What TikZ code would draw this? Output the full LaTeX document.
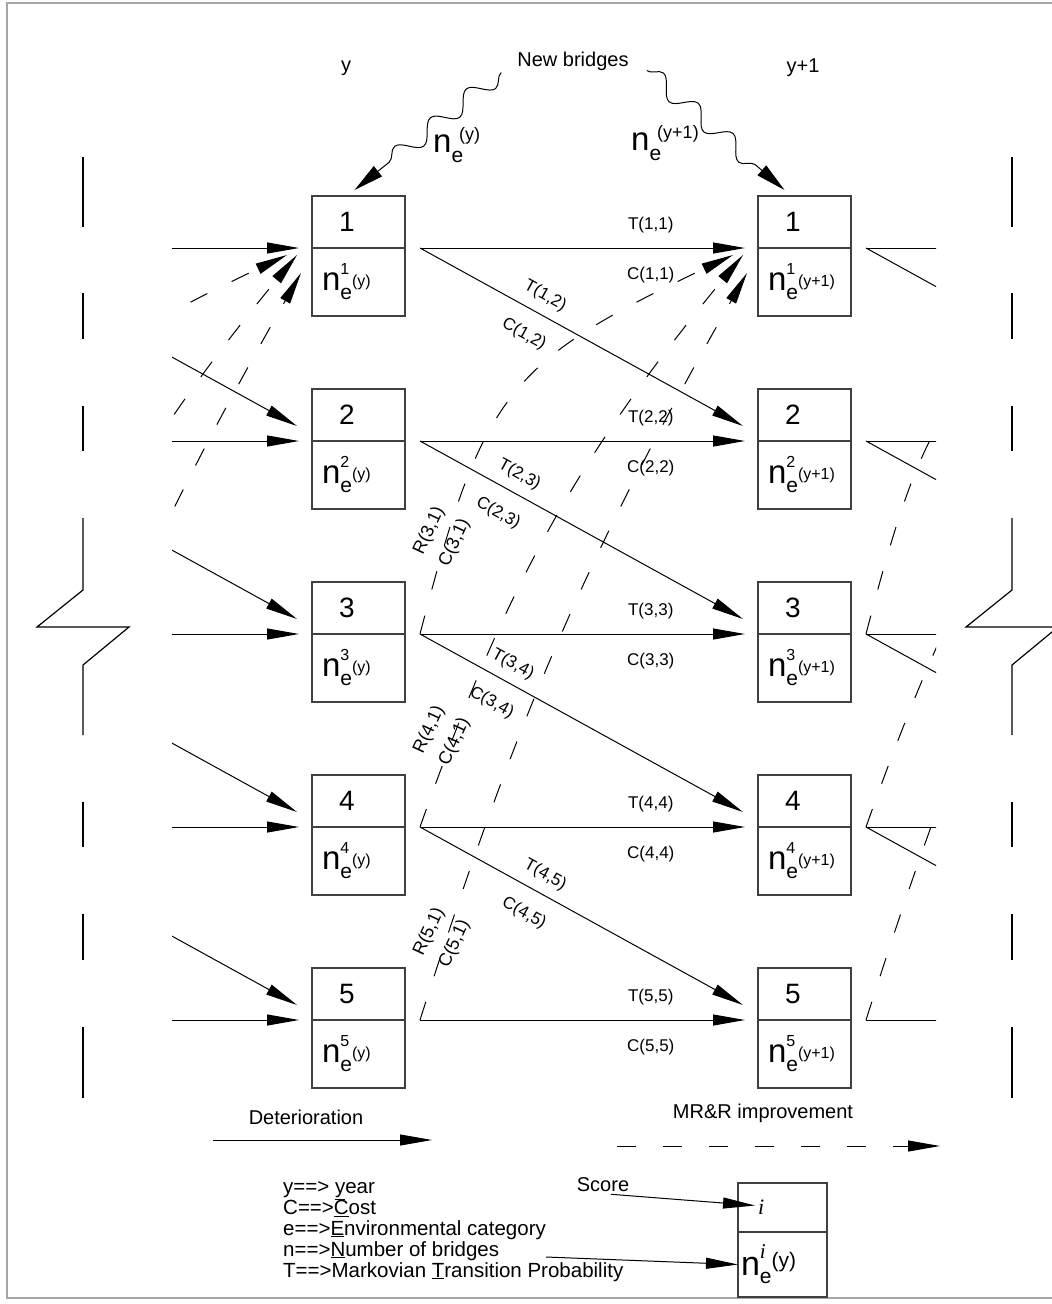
\documentclass[tikz,border=0pt]{standalone}
\usepackage{fontspec}
\setmainfont{Liberation Sans}
\newfontfamily\serifit{Liberation Serif}
\usepackage{tikz}
\usetikzlibrary{arrows.meta,positioning,decorations.pathmorphing}

% n_e labels of the boxes
\newcommand{\nsub}[2]{{\fontsize{33}{33}\selectfont n}\rlap{\raisebox{16pt}{\fontsize{16}{16}\selectfont #1}}\raisebox{-9pt}{\fontsize{21}{21}\selectfont e}\raisebox{4pt}{\fontsize{16}{16}\selectfont #2}}
\newcommand{\ntop}[1]{{\fontsize{33}{33}\selectfont n}\raisebox{-10pt}{\fontsize{21}{21}\selectfont e}\kern-4pt\raisebox{12pt}{\fontsize{18}{18}\selectfont #1}}
\newcommand{\nleg}{{\fontsize{34}{34}\selectfont n}\rlap{\raisebox{17pt}{\fontsize{21}{21}\selectfont\serifit\itshape i}}\raisebox{-8pt}{\fontsize{21}{21}\selectfont e}\raisebox{8pt}{\fontsize{21}{21}\selectfont(y)}}

\begin{document}
\begin{tikzpicture}[x=1pt,y=-1pt,numbox/.style={draw=black!75,line width=1.1pt,outer sep=0pt,minimum height=52pt,inner xsep=27pt,text width=39pt,align=left,font=\fontsize{28}{28}\selectfont},nbox/.style={draw=black!75,line width=1.1pt,outer sep=0pt,minimum height=68pt,inner xsep=10pt,text width=73pt,align=left},lab/.style={inner sep=2pt,font=\fontsize{17}{17}\selectfont},rlab/.style={lab,rotate=65,align=center,font=\fontsize{18}{28}\selectfont},txt/.style={inner sep=2pt,font=\fontsize{20}{20}\selectfont},tarr/.style={-{Triangle[length=32pt,width=11pt]},line width=1pt},rarr/.style={tarr,dash pattern=on 19pt off 27pt},wave/.style={-{Triangle[length=30pt,width=13pt]},line width=1pt,decorate,decoration={snake,amplitude=9pt,segment length=46pt,post length=30pt}},brk/.style={line width=1.2pt}]
\useasboundingbox (0,0) rectangle (1052,1304);
\clip (0,0) rectangle (1052,1304);
\draw[gray!70,line width=2pt] (7,3) rectangle (1070,1298);

% break lines
\foreach \bx in {83,1012}{
  \foreach \ya/\yb in {157/227,293/339,406/451,802/847,914/960,1027/1098}
    \draw[brk] (\bx,\ya) -- (\bx,\yb);
  \draw[brk] (\bx,518) -- (\bx,590) -- (\bx-46,627) -- (\bx+46,627) -- (\bx,665) -- (\bx,735);
}

% condition states, year y and y+1
\foreach \i in {1,...,5}{
  \node[numbox] (a\i) at (358.5,{222+193*(\i-1)}) {\i};
  \node[nbox,below=0pt of a\i] (an\i) {\nsub{\i}{(y)}};
  \node[numbox,right=353pt of a\i] (b\i) {\i};
  \node[nbox,below=0pt of b\i] (bn\i) {\nsub{\i}{(y+1)}};
  \coordinate (pa\i) at ([xshift=-446pt]a\i.south east);
  \coordinate (nb\i) at ([xshift=446pt]b\i.south west);
}

\node[txt] (yl) at (346,68) {y};
\node[txt] (yr) at (803,68) {y+1};
\node[txt] (newb) at (573,61) {New bridges};
\node[anchor=base west,inner sep=0pt] (nl) at (433,152) {\ntop{(y)}};
\node[anchor=base west,inner sep=0pt] (nr) at (631,150) {\ntop{(y+1)}};
\draw[wave] ([xshift=-14pt]newb.south west) -- ([xshift=-4pt,yshift=6pt]a1.north);
\draw[wave] ([xshift=16pt,yshift=2pt]newb.south east) -- ([xshift=-20pt,yshift=6pt]b1.north);

\begin{scope}
\clip (172,0) rectangle (936,1304);
\foreach \i in {1,...,5}{
  \draw[tarr] ([xshift=15pt]pa\i) -- ([xshift=-13pt]a\i.south west);
  \draw[tarr] ([xshift=15pt]a\i.south east) -- ([xshift=-13pt]b\i.south west)
    node[lab,pos=0.71,above=12pt] (t\i\i) {T(\i,\i)} node[lab,pos=0.71,below=17pt] (c\i\i) {C(\i,\i)};
  \draw[tarr] ([xshift=15pt]b\i.south east) -- ([xshift=-13pt]nb\i);
}
\foreach \i/\j/\p in {1/2/0.36,2/3/0.28,3/4/0.26,4/5/0.36}{
  \draw[tarr] ([xshift=15pt]pa\i) -- ([xshift=-15pt,yshift=15pt]a\j.south west);
  \draw[tarr] ([xshift=15pt]a\i.south east) -- ([xshift=-15pt,yshift=15pt]b\j.south west)
    node[lab,sloped,pos=\p,above=8pt] (t\i\j) {T(\i,\j)} node[lab,sloped,pos=\p,below=15pt] (c\i\j) {C(\i,\j)};
  \draw[tarr] ([xshift=15pt]b\i.south east) -- ([xshift=-15pt,yshift=15pt]nb\j);
}
% MR&R back to state 1
\foreach \i/\bend/\loose/\dx/\dy in {3/25/1.3/-25pt/-7pt,4/10/1/-15pt/-7pt,5/6/1/-11pt/-25pt}{
  \draw[rarr] ([xshift=15pt]pa\i) to[bend left=\bend,looseness=\loose] ([xshift=\dx,yshift=\dy]a1.south west);
  \draw[rarr] ([xshift=15pt]a\i.south east) to[bend left=\bend,looseness=\loose] ([xshift=\dx,yshift=\dy]b1.south west);
  \draw[rarr] ([xshift=15pt]b\i.south east) to[bend left=\bend,looseness=\loose] ([xshift=\dx,yshift=\dy]nb1);
}
\end{scope}
\foreach \i/\up in {3/97pt,4/91pt,5/82pt}
  \node[rlab] (r\i) at ([xshift=37pt,yshift=\up]a\i.south east) {R(\i,1)\\C(\i,1)};

% legend
\node[txt] (det) at (306,1117) {Deterioration};
\node[txt] (mrr) at (763,1113) {MR\&R improvement};
\coordinate (d0) at (213,1140);
\coordinate (d1) at (432,1140);
\draw[tarr] (d0) -- (d1);
\coordinate (m0) at (617,1146);
\coordinate (m1) at (940,1146);
\draw[rarr] (m0) -- (m1);
\node[anchor=north west,align=left,inner sep=0pt,font=\fontsize{20.5}{21}\selectfont] (leg) at (283,1181) {y==> \underline{y}ear\\C==>\underline{C}ost\\e==>\underline{E}nvironmental category\\n==>\underline{N}umber of bridges\\T==>Markovian \underline{T}ransition Probability};
\node[txt] (score) at (603,1185) {Score};
\node[draw=black!75,line width=1.1pt,outer sep=0pt,minimum height=49pt,inner xsep=20pt,text width=49pt,align=left,font=\fontsize{22}{22}\selectfont\serifit\itshape] (lga) at (782.5,1207.5) {i};
\node[draw=black!75,line width=1.1pt,outer sep=0pt,minimum height=65pt,inner xsep=3pt,text width=83pt,align=left,below=0pt of lga] (lgb) {\nleg};
\coordinate (nfrom) at (546,1257);
\draw[tarr] ([xshift=8pt]score.south) -- ([xshift=17pt,yshift=2pt]lga.west);
\draw[tarr] (nfrom) -- (lgb.west);
\end{tikzpicture}
\end{document}
